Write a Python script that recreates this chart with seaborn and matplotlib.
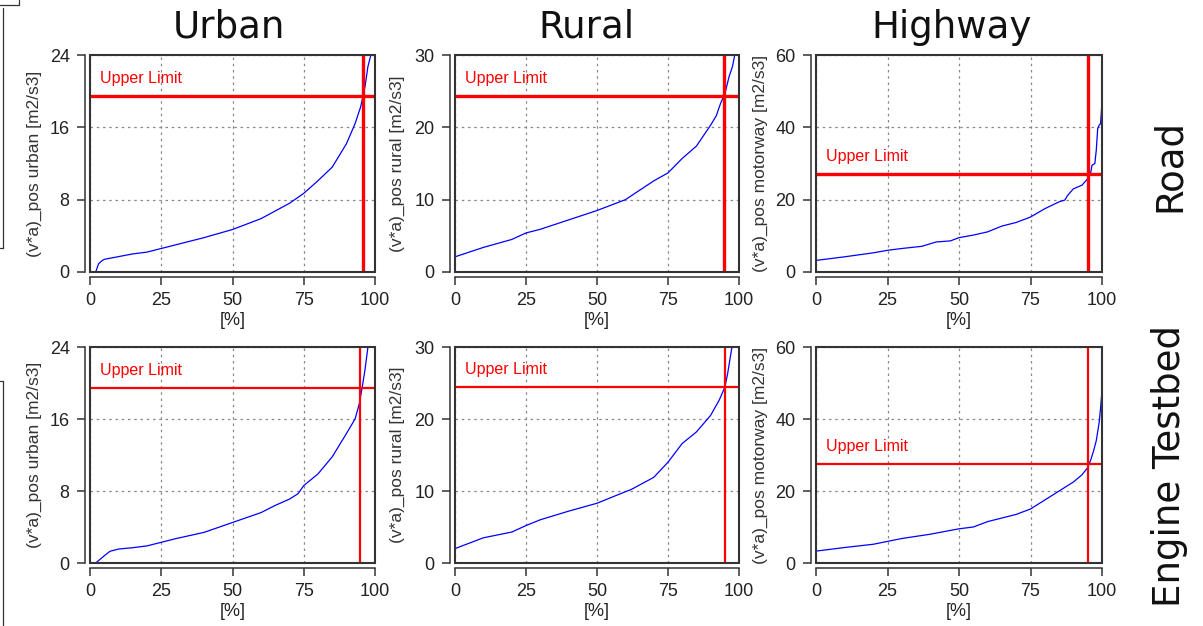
import matplotlib.pyplot as plt
import seaborn as sns
from matplotlib.lines import Line2D
from matplotlib.patches import Rectangle

# --- data (percentile curves, [%] vs (v*a)_pos) ---
urban_road_pct = [2, 3, 4, 5, 10, 15, 20, 25, 30, 40, 50, 60, 70, 75, 80, 85, 90, 93, 95, 96.5, 97.5, 98.7]
urban_road_val = [0, 0.9, 1.2, 1.4, 1.7, 2.0, 2.2, 2.6, 3.0, 3.8, 4.7, 5.9, 7.6, 8.7, 10.1, 11.6, 14.2, 16.4, 18.3, 20.5, 22.7, 24.2]

rural_road_pct = [0, 10, 20, 25, 30, 40, 50, 60, 70, 75, 80, 85, 90, 92, 93.5, 95, 96.5, 97.7, 98.6]
rural_road_val = [2.1, 3.4, 4.5, 5.4, 5.9, 7.2, 8.5, 10.0, 12.6, 13.7, 15.7, 17.4, 20.3, 21.6, 23.3, 24.6, 27.0, 28.4, 30.2]

highway_road_pct = [0, 10, 20, 25, 30, 37, 42, 47, 50, 55, 60, 65, 70, 75, 80, 85, 87, 88, 90, 93, 95,
                    96, 96.5, 97.5, 98, 98.5, 99, 99.5, 100]
highway_road_val = [3.2, 4.2, 5.3, 6.0, 6.5, 7.1, 8.3, 8.6, 9.5, 10.2, 11.1, 12.7, 13.7, 15.2, 17.5, 19.4, 19.9,
                    21.2, 23.0, 24.0, 25.8, 27.2, 29.5, 30.0, 33.7, 39.7, 40.6, 41.0, 47.0]

urban_bed_pct = [2, 5, 7, 10, 15, 20, 25, 30, 40, 50, 60, 65, 70, 73, 75, 80, 85, 90, 93, 94.5, 95.5, 96.5, 97.6]
urban_bed_val = [0, 0.8, 1.3, 1.55, 1.7, 1.9, 2.3, 2.7, 3.4, 4.5, 5.6, 6.4, 7.1, 7.7, 8.6, 9.9, 11.8, 14.4, 16.0,
                 17.7, 19.5, 21.5, 24.2]

rural_bed_pct = [0, 10, 20, 25, 30, 35, 40, 50, 60, 62, 70, 75, 80, 85, 90, 93, 95, 96, 97.6]
rural_bed_val = [2.0, 3.5, 4.3, 5.2, 6.0, 6.6, 7.2, 8.3, 9.9, 10.2, 11.9, 14.0, 16.6, 18.2, 20.5, 22.6, 24.4, 26.3, 30.2]

highway_bed_pct = [0, 10, 20, 25, 30, 40, 50, 55, 60, 65, 70, 75, 80, 85, 90, 93, 95, 96, 97, 98, 99, 99.5, 100]
highway_bed_val = [3.3, 4.3, 5.2, 6.0, 6.8, 8.0, 9.5, 10.0, 11.5, 12.5, 13.5, 15.0, 17.5, 20.0, 22.5, 24.5, 26.5,
                   28.5, 31.0, 34.0, 39.0, 43.0, 48.0]

# upper limits: (horizontal value, vertical percentile)
limits_road = [(19.5, 95.8), (24.4, 94.8), (27.0, 95.2)]
limits_bed = [(19.4, 94.8), (24.4, 95.2), (27.4, 95.1)]

col_titles = ["Urban", "Rural", "Highway"]
row_titles = ["Road", "Engine Testbed"]
y_labels = ["(v*a)_pos urban [m2/s3]", "(v*a)_pos rural [m2/s3]", "(v*a)_pos motorway [m2/s3]"]
y_max = [24, 30, 60]
y_ticks = [[0, 8, 16, 24], [0, 10, 20, 30], [0, 20, 40, 60]]
x_ticks = [0, 25, 50, 75, 100]

sns.set_style("white")
plt.rcParams['font.family'] = ['Liberation Sans', 'DejaVu Sans']

W, H = 1203, 626
fig = plt.figure(figsize=(W / 100, H / 100), dpi=100)

lefts = [90, 455, 816]
widths = [285, 284, 286]
tops = [55, 347]
heights = [217, 216]
label_x = [-0.168, -0.176, -0.168]

rows = [
    [(urban_road_pct, urban_road_val), (rural_road_pct, rural_road_val), (highway_road_pct, highway_road_val)],
    [(urban_bed_pct, urban_bed_val), (rural_bed_pct, rural_bed_val), (highway_bed_pct, highway_bed_val)],
]
row_limits = [limits_road, limits_bed]
red_lw = [2.4, 1.6]

edge = '#333333'
for r in range(2):
    for c in range(3):
        ax = fig.add_axes([lefts[c] / W, 1 - (tops[r] + heights[r]) / H, widths[c] / W, heights[r] / H])
        pct, val = rows[r][c]
        sns.lineplot(x=pct, y=val, ax=ax, color='#0000ff', lw=0.9, zorder=3)
        hval, vpct = row_limits[r][c]
        ax.axhline(hval, color='#ff0000', lw=red_lw[r], zorder=4)
        ax.axvline(vpct, color='#ff0000', lw=red_lw[r], zorder=4)
        ax.annotate('Upper Limit', xy=(0, hval), xycoords=('axes fraction', 'data'),
                    xytext=(7.2, 9.3), textcoords='offset points', color='#ff0000',
                    fontsize=11.5, va='baseline')

        ax.set_xlim(0, 100)
        ax.set_ylim(0, y_max[c])
        ax.set_xticks(x_ticks)
        ax.set_yticks(y_ticks[c])
        ax.grid(True, color='#888888', linestyle=(0, (2, 3)), lw=0.9)

        for s in ['top', 'right']:
            ax.spines[s].set_visible(False)
        for s in ['left', 'bottom']:
            ax.spines[s].set_position(('outward', 3.6))
            ax.spines[s].set_color(edge)
            ax.spines[s].set_linewidth(1.1)
        ax.add_patch(Rectangle((0, 0), 1, 1, transform=ax.transAxes, fill=False,
                               ec=edge, lw=1.5, clip_on=False, zorder=6))
        ax.tick_params(direction='out', length=6, width=1.1, color=edge, pad=5,
                       labelsize=13, labelcolor='#222222', left=True, bottom=True)

        ax.set_xlabel('[%]', fontsize=13, color='#222222', labelpad=2)
        ax.set_ylabel(y_labels[c], fontsize=12.5, color='#333333')
        ax.yaxis.set_label_coords(label_x[c], 0.5)

# column and row titles
for x, t in zip([229, 586, 952], col_titles):
    fig.text(x / W, 1 - 38 / H, t, fontsize=26.7, family='DejaVu Sans', color='#111111',
             ha='center', va='baseline')
for y, t in zip([166, 466], row_titles):
    fig.text(1169 / W, 1 - y / H, t, fontsize=26.7, family='DejaVu Sans', color='#111111',
             ha='center', va='center', rotation=90)

# leftover slide frame edges at the left border
frame_lines = [
    ([0, 19, 19], [5, 5, 0]),
    ([3, 3, 0], [8, 248, 248]),
    ([0, 3, 3], [381, 381, 626]),
]
for xs, ys in frame_lines:
    fig.add_artist(Line2D([x / W for x in xs], [1 - y / H for y in ys],
                          transform=fig.transFigure, color=edge, lw=0.9))

fig.savefig('out.png', dpi=100)
